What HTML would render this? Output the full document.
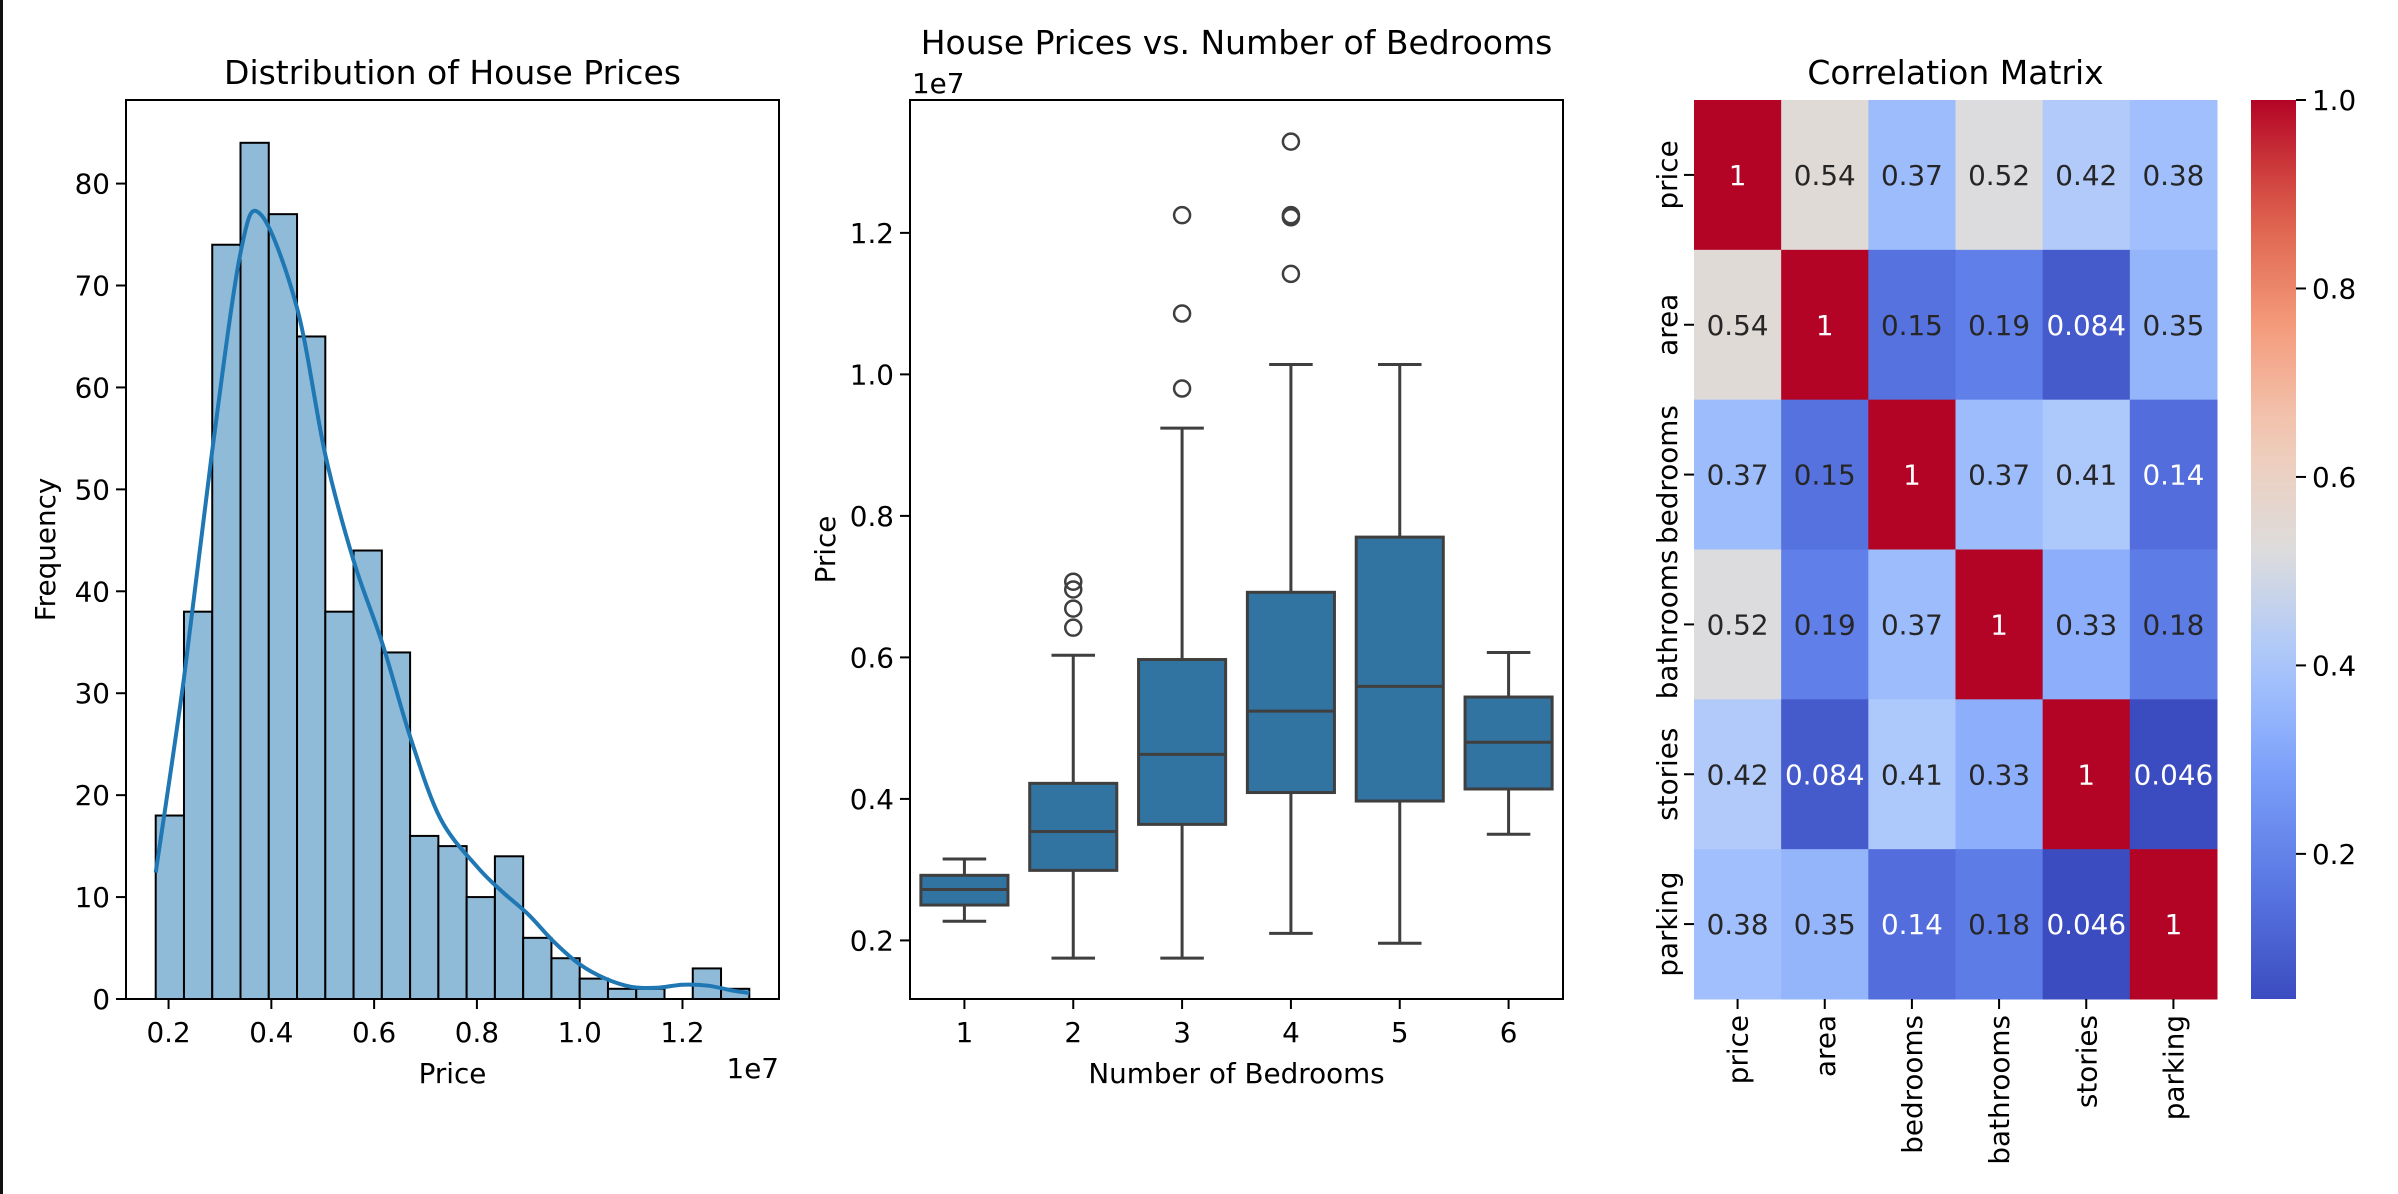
<!DOCTYPE html>
<html><head><meta charset="utf-8">
<style>
html,body{margin:0;padding:0;background:#fff;}
svg{display:block;font-family:"DejaVu Sans","Liberation Sans",sans-serif;}
</style></head>
<body>
<svg id="fig" width="2398" height="1194" viewBox="0 0 2398 1194" xmlns="http://www.w3.org/2000/svg">
<rect x="0" y="0" width="2398" height="1194" fill="#fff"/>
<rect x="0" y="0" width="3" height="1194" fill="#111"/>
</svg>
<script>
// ---------- Histogram data ----------
const histCounts = [18,38,74,84,77,65,38,44,34,16,15,10,14,6,4,2,1,1,0,3,1];
const histMin = 0.175, histMax = 1.33;
const kdeX = [0.175,0.23,0.284,0.34,0.379,0.45,0.505,0.56,0.616,0.671,0.729,0.8,0.85,0.9,0.95,1.0,1.05,1.1,1.15,1.2,1.25,1.3,1.33];
const kdeY = [12.4,31.5,53.4,73.2,77,67.8,53.4,43,34.9,25.6,17.7,13,10.5,8.3,5.6,3.4,2,1.2,1.1,1.4,1.3,0.8,0.6];
const histXTicks = [0.2,0.4,0.6,0.8,1.0,1.2];
const histXTickLabels = ["0.2","0.4","0.6","0.8","1.0","1.2"];
const histYTicks = [0,10,20,30,40,50,60,70,80];

// ---------- Boxplot data ----------
const bedCats = ["1","2","3","4","5","6"];
const boxLow  = [0.227,0.175,0.175,0.21,0.196,0.35];
const boxQ1   = [0.250,0.299,0.364,0.409,0.397,0.414];
const boxMed  = [0.272,0.354,0.463,0.524,0.559,0.480];
const boxQ3   = [0.292,0.422,0.597,0.692,0.770,0.544];
const boxHigh = [0.315,0.603,0.924,1.014,1.014,0.607];
const boxOutliers = [[],[0.642,0.669,0.696,0.707],[0.980,1.086,1.225],[1.142,1.222,1.225,1.329],[],[]];
const boxYTicks = [0.2,0.4,0.6,0.8,1.0,1.2];
const boxYTickLabels = ["0.2","0.4","0.6","0.8","1.0","1.2"];

// ---------- Heatmap data ----------
const corrLabels = ["price","area","bedrooms","bathrooms","stories","parking"];
const corrRow0 = [1,0.54,0.37,0.52,0.42,0.38];
const corrRow1 = [0.54,1,0.15,0.19,0.084,0.35];
const corrRow2 = [0.37,0.15,1,0.37,0.41,0.14];
const corrRow3 = [0.52,0.19,0.37,1,0.33,0.18];
const corrRow4 = [0.42,0.084,0.41,0.33,1,0.046];
const corrRow5 = [0.38,0.35,0.14,0.18,0.046,1];
const cbarTicks = [0.2,0.4,0.6,0.8,1.0];
const cbarTickLabels = ["0.2","0.4","0.6","0.8","1.0"];

const NS = "http://www.w3.org/2000/svg";
const fig = document.getElementById('fig');
function mk(tag, attrs, parent){
  const e = document.createElementNS(NS, tag);
  for (const k in attrs) e.setAttribute(k, attrs[k]);
  (parent||fig).appendChild(e);
  return e;
}
function txt(s, attrs){
  const e = mk('text', attrs);
  e.textContent = s;
  return e;
}
const FS = 27.8, TFS = 33;

// ===== Panel 1: histogram =====
(function(){
  const L=126,R=779,T=100,B=999;
  const xmin=0.1172, xmax=1.3878, ymin=0, ymax=88.2;
  const sx=v=>L+(v-xmin)/(xmax-xmin)*(R-L);
  const sy=v=>B-(v-ymin)/(ymax-ymin)*(B-T);
  const bw=(histMax-histMin)/histCounts.length;
  histCounts.forEach((c,i)=>{
    const x0=sx(histMin+i*bw), x1=sx(histMin+(i+1)*bw);
    const r=mk('rect',{x:x0,y:sy(c),width:x1-x0,height:sy(0)-sy(c),fill:'#8fbbd9',stroke:'#000','stroke-width':2});
    
    
  });
  // smooth path through points (Catmull-Rom)
  const pts=kdeX.map((x,i)=>[sx(x),sy(kdeY[i])]);
  let d='M'+pts[0][0].toFixed(1)+','+pts[0][1].toFixed(1);
  for(let i=0;i<pts.length-1;i++){
    const p0=pts[Math.max(0,i-1)],p1=pts[i],p2=pts[i+1],p3=pts[Math.min(pts.length-1,i+2)];
    const c1=[p1[0]+(p2[0]-p0[0])/6,p1[1]+(p2[1]-p0[1])/6];
    const c2=[p2[0]-(p3[0]-p1[0])/6,p2[1]-(p3[1]-p1[1])/6];
    d+='C'+c1[0].toFixed(1)+','+c1[1].toFixed(1)+' '+c2[0].toFixed(1)+','+c2[1].toFixed(1)+' '+p2[0].toFixed(1)+','+p2[1].toFixed(1);
  }
  const p=mk('path',{d:d,fill:'none',stroke:'#1f77b4','stroke-width':4,'stroke-linejoin':'round'});
  
  
  const f=mk('rect',{x:L,y:T,width:R-L,height:B-T,fill:'none',stroke:'#000','stroke-width':2});
  
  
  histXTicks.forEach((v,i)=>{
    mk('line',{x1:sx(v),x2:sx(v),y1:B,y2:B+10,stroke:'#000','stroke-width':2});
    const t=txt(histXTickLabels[i],{x:sx(v),y:B+43,'font-size':FS,'text-anchor':'middle'});
    
    
  });
  histYTicks.forEach(v=>{
    mk('line',{x1:L-10,x2:L,y1:sy(v),y2:sy(v),stroke:'#000','stroke-width':2});
    const t=txt(String(v),{x:L-16,y:sy(v)+10,'font-size':FS,'text-anchor':'end'});
    
    
  });
  let t=txt('Distribution of House Prices',{x:(L+R)/2,y:84,'font-size':TFS,'text-anchor':'middle'});
   
  t=txt('Price',{x:(L+R)/2,y:1083,'font-size':FS,'text-anchor':'middle'});
   
  t=txt('1e7',{x:R,y:1078,'font-size':FS,'text-anchor':'end'});
   
  t=txt('Frequency',{x:0,y:0,'font-size':FS,'text-anchor':'middle',transform:'translate(55,'+((T+B)/2)+') rotate(-90)'});
   
})();

// ===== Panel 2: boxplot =====
(function(){
  const L=910,R=1563,T=100,B=999;
  const ymin=0.1172, ymax=1.3878;
  const sy=v=>B-(v-ymin)/(ymax-ymin)*(B-T);
  const step=(R-L)/bedCats.length;
  const sx=i=>L+step*(i+0.5);
  const hw=step*0.4;
  const lc='#3f3f3f';
  bedCats.forEach((c,i)=>{
    const cx=sx(i);
    let e=mk('line',{x1:cx,x2:cx,y1:sy(boxLow[i]),y2:sy(boxQ1[i]),stroke:lc,'stroke-width':3});
     
    e=mk('line',{x1:cx,x2:cx,y1:sy(boxQ3[i]),y2:sy(boxHigh[i]),stroke:lc,'stroke-width':3});
     
    mk('line',{x1:cx-hw/2,x2:cx+hw/2,y1:sy(boxLow[i]),y2:sy(boxLow[i]),stroke:lc,'stroke-width':3});
    mk('line',{x1:cx-hw/2,x2:cx+hw/2,y1:sy(boxHigh[i]),y2:sy(boxHigh[i]),stroke:lc,'stroke-width':3});
    e=mk('rect',{x:cx-hw,y:sy(boxQ3[i]),width:2*hw,height:sy(boxQ1[i])-sy(boxQ3[i]),fill:'#3274a1',stroke:lc,'stroke-width':3});
     
    e=mk('line',{x1:cx-hw,x2:cx+hw,y1:sy(boxMed[i]),y2:sy(boxMed[i]),stroke:lc,'stroke-width':3});
     
    boxOutliers[i].forEach(v=>{
      const o=mk('ellipse',{cx:cx,cy:sy(v),rx:8,ry:8,fill:'none',stroke:lc,'stroke-width':2.5});
       
    });
    mk('line',{x1:cx,x2:cx,y1:B,y2:B+10,stroke:'#000','stroke-width':2});
    const t=txt(c,{x:cx,y:B+43,'font-size':FS,'text-anchor':'middle'});
     
  });
  const f=mk('rect',{x:L,y:T,width:R-L,height:B-T,fill:'none',stroke:'#000','stroke-width':2});
   
  boxYTicks.forEach((v,i)=>{
    mk('line',{x1:L-10,x2:L,y1:sy(v),y2:sy(v),stroke:'#000','stroke-width':2});
    const t=txt(boxYTickLabels[i],{x:L-16,y:sy(v)+10,'font-size':FS,'text-anchor':'end'});
     
  });
  let t=txt('House Prices vs. Number of Bedrooms',{x:(L+R)/2,y:54,'font-size':TFS,'text-anchor':'middle'});
   
  t=txt('1e7',{x:L+2,y:93,'font-size':FS,'text-anchor':'start'});
   
  t=txt('Number of Bedrooms',{x:(L+R)/2,y:1083,'font-size':FS,'text-anchor':'middle'});
   
  t=txt('Price',{x:0,y:0,'font-size':FS,'text-anchor':'middle',transform:'translate(835,'+((T+B)/2)+') rotate(-90)'});
   
})();

// ===== Panel 3: heatmap =====
(function(){
  const rows=[corrRow0,corrRow1,corrRow2,corrRow3,corrRow4,corrRow5];
  const L=1694,R=2217,T=100,B=999;
  const vmin=0.046, vmax=1.0;
  const stops=[[0,[59,76,192]],[0.125,[89,119,227]],[0.25,[123,159,249]],[0.375,[170,199,253]],[0.5,[221,220,220]],[0.625,[242,203,183]],[0.75,[244,154,123]],[0.875,[220,93,74]],[1,[180,4,38]]];
  function cmap(t){
    t=Math.max(0,Math.min(1,t));
    for(let i=1;i<stops.length;i++){
      if(t<=stops[i][0]){
        const a=stops[i-1],b=stops[i],f=(t-a[0])/(b[0]-a[0]);
        return a[1].map((c,k)=>Math.round(c+(b[1][k]-c)*f));
      }
    }
    return stops[stops.length-1][1];
  }
  const n=corrLabels.length, cw=(R-L)/n, ch=(B-T)/n;
  rows.forEach((row,r)=>{
    row.forEach((v,c)=>{
      const col=cmap((v-vmin)/(vmax-vmin));
      const cell=mk('rect',{x:L+c*cw,y:T+r*ch,width:cw+0.5,height:ch+0.5,fill:'rgb('+col.join(',')+')'});
      
      
      const lum=(0.2126*col[0]+0.7152*col[1]+0.0722*col[2])/255;
      const t=txt(String(v),{x:L+(c+0.5)*cw,y:T+(r+0.5)*ch+10,'font-size':FS,'text-anchor':'middle',fill:lum<0.45?'#fff':'#262626'});
       
    });
  });
  corrLabels.forEach((lab,i)=>{
    const cy=T+(i+0.5)*ch;
    mk('line',{x1:L-10,x2:L,y1:cy,y2:cy,stroke:'#000','stroke-width':2});
    let t=txt(lab,{x:0,y:0,'font-size':FS,'text-anchor':'middle',transform:'translate(1677,'+cy+') rotate(-90)'});
     
    const cx=L+(i+0.5)*cw;
    mk('line',{x1:cx,x2:cx,y1:B,y2:B+10,stroke:'#000','stroke-width':2});
    t=txt(lab,{x:0,y:0,'font-size':FS,'text-anchor':'end',transform:'translate('+(cx+10)+','+(B+16)+') rotate(-90)'});
     
  });
  let t=txt('Correlation Matrix',{x:(L+R)/2,y:84,'font-size':TFS,'text-anchor':'middle'});
   
  // colorbar
  const CL=2251,CR=2296;
  const defs=mk('defs',{});
  const g=mk('linearGradient',{id:'cbg',x1:0,y1:1,x2:0,y2:0},defs);
  for(let k=0;k<=20;k++){
    const col=cmap(k/20);
    mk('stop',{offset:(k/20),'stop-color':'rgb('+col.join(',')+')'},g);
  }
  const cb=mk('rect',{x:CL,y:T,width:CR-CL,height:B-T,fill:'url(#cbg)'});
   
  const cy=v=>B-(v-vmin)/(vmax-vmin)*(B-T);
  cbarTicks.forEach((v,i)=>{
    mk('line',{x1:CR,x2:CR+10,y1:cy(v),y2:cy(v),stroke:'#000','stroke-width':2});
    const tt=txt(cbarTickLabels[i],{x:CR+16,y:cy(v)+10,'font-size':FS,'text-anchor':'start'});
     
  });
})();
</script>
</body></html>
